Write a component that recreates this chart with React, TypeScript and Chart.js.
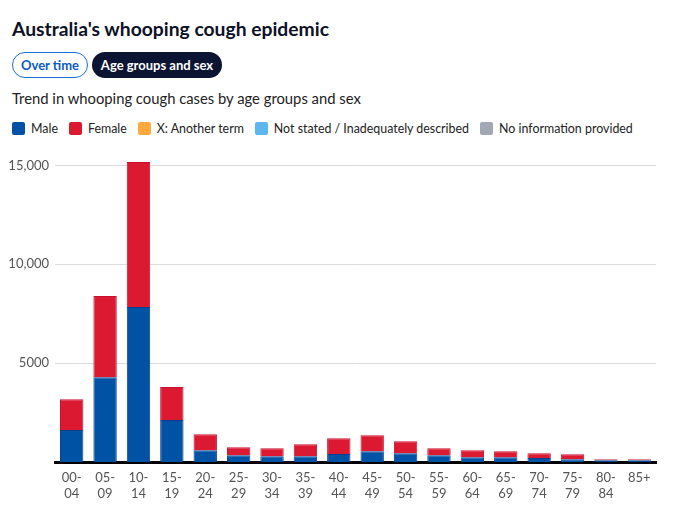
import React, { useEffect, useRef } from "react";
import { Chart, registerables } from "chart.js";

Chart.register(...registerables);

const categories: string[][] = [
  ["00-", "04"], ["05-", "09"], ["10-", "14"], ["15-", "19"], ["20-", "24"], ["25-", "29"],
  ["30-", "34"], ["35-", "39"], ["40-", "44"], ["45-", "49"], ["50-", "54"], ["55-", "59"],
  ["60-", "64"], ["65-", "69"], ["70-", "74"], ["75-", "79"], ["80-", "84"], ["85+"],
];
const male = [1620, 4290, 7840, 2130, 590, 340, 290, 290, 405, 540, 440, 340, 240, 240, 200, 140, 85, 85];
const female = [1560, 4100, 7330, 1660, 810, 405, 405, 610, 800, 810, 610, 355, 355, 305, 240, 250, 50, 50];
const anotherTerm = [0, 0, 0, 0, 0, 0, 0, 0, 0, 0, 0, 0, 0, 0, 0, 0, 0, 0];
const notStated = [0, 0, 0, 0, 0, 0, 0, 0, 0, 0, 0, 0, 0, 0, 0, 0, 0, 0];
const noInfo = [0, 0, 0, 0, 0, 0, 0, 0, 0, 0, 0, 0, 0, 0, 0, 0, 0, 0];
const yTicks = [5000, 10000, 15000];

const seriesNames = ["Male", "Female", "X: Another term", "Not stated / Inadequately described", "No information provided"];
const seriesColors = ["#0052a5", "#db1a32", "#ffa93f", "#5cb8ec", "#a3a7b4"];
const seriesBorders = ["#0a3f8f", "#c8102e", "#f09a30", "#4aa8dc", "#9094a0"];

const FONT = "Lato, 'Noto Sans', sans-serif";

export default function App() {
  const ref = useRef<HTMLCanvasElement>(null);
  useEffect(() => {
    document.body.style.margin = "0";
    const data = [male, female, anotherTerm, notStated, noInfo];
    const chart = new Chart(ref.current!, {
      type: "bar",
      data: {
        labels: categories,
        datasets: data.map((d, i) => ({
          label: seriesNames[i],
          data: d,
          backgroundColor: seriesColors[i],
          borderColor: seriesBorders[i],
          borderWidth: i < 2 ? 1 : 0,
          barPercentage: 0.7,
          categoryPercentage: 1,
        })),
      },
      options: {
        animation: false,
        responsive: false,
        maintainAspectRatio: false,
        layout: { padding: { top: 9.5, right: 30, left: 0, bottom: 0 } },
        plugins: { legend: { display: false }, tooltip: { enabled: false } },
        scales: {
          x: {
            stacked: true,
            grid: { display: false },
            border: { color: "#000", width: 3 },
            ticks: { color: "#555", font: { family: FONT, size: 13 }, padding: 0, maxRotation: 0, autoSkip: false },
            afterFit: (s: any) => { s.height = 57; s.paddingLeft = 0; s.paddingRight = 0; },
          },
          y: {
            stacked: true,
            min: 0,
            max: 15300,
            border: { display: false },
            grid: { color: "#dcdcdc", drawTicks: false },
            ticks: {
              color: "#555",
              font: { family: FONT, size: 13 },
              padding: 6,
              callback: (v: any) => (v >= 10000 ? Number(v).toLocaleString("en-US") : String(v)),
            },
            afterBuildTicks: (s: any) => { s.ticks = yTicks.map((v) => ({ value: v })); },
            afterFit: (s: any) => { s.width = 55; s.paddingTop = 0; s.paddingBottom = 0; },
          },
        },
      },
    });
    return () => chart.destroy();
  }, []);

  return (
    <div style={{ position: "relative", width: 686, height: 519, fontFamily: FONT, color: "#1a1a2e", background: "#fff" }}>
      <div style={{ position: "absolute", left: 12, top: 17, fontSize: 19.3, fontWeight: 700, color: "#0d1226", whiteSpace: "nowrap" }}>
        Australia's whooping cough epidemic
      </div>
      <div style={{ position: "absolute", left: 12, top: 52, display: "flex", gap: 4 }}>
        <div style={{ boxSizing: "border-box", height: 26, width: 76, border: "1.5px solid #1a6fd6", borderRadius: 13, color: "#0a5ac2", fontSize: 13, fontWeight: 700, display: "flex", alignItems: "center", justifyContent: "center" }}>Over time</div>
        <div style={{ boxSizing: "border-box", height: 26, width: 130, background: "#0b1533", borderRadius: 13, color: "#fff", fontSize: 13, fontWeight: 700, display: "flex", alignItems: "center", justifyContent: "center" }}>Age groups and sex</div>
      </div>
      <div style={{ position: "absolute", left: 12, top: 89, fontSize: 14.8, color: "#222", whiteSpace: "nowrap" }}>
        Trend in whooping cough cases by age groups and sex
      </div>
      <div style={{ position: "absolute", left: 12, top: 121, display: "flex", alignItems: "center", fontSize: 12.4, color: "#222", whiteSpace: "nowrap" }}>
        {seriesNames.map((n, i) => (
          <div key={n} style={{ display: "flex", alignItems: "center", marginRight: 11 }}>
            <span style={{ display: "inline-block", width: 13, height: 13, borderRadius: 2, background: seriesColors[i], marginRight: 6 }} />
            <span>{n}</span>
          </div>
        ))}
      </div>
      <canvas ref={ref} width={686} height={369} style={{ position: "absolute", left: 0, top: 150, width: 686, height: 369 }} />
    </div>
  );
}
